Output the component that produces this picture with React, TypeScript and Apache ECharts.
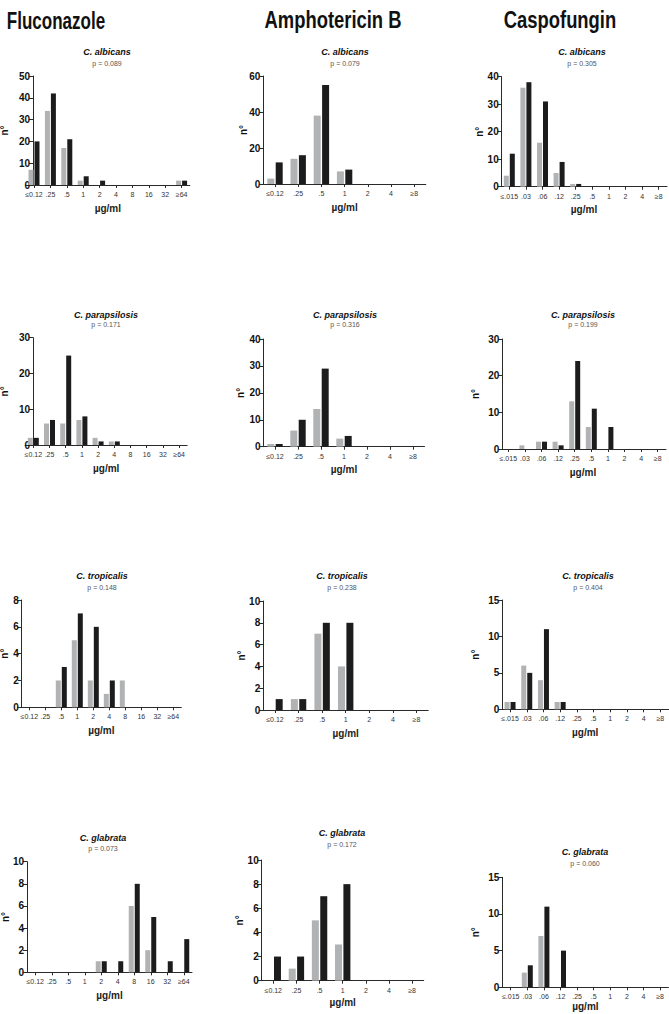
import React, { useEffect, useRef } from "react";
import * as echarts from "echarts";

// ---------- DATA ----------
const drugs = ["Fluconazole", "Amphotericin B", "Caspofungin"];
const species = ["C. albicans", "C. parapsilosis", "C. tropicalis", "C. glabrata"];

const flucCats = ["≤0.12", ".25", ".5", "1", "2", "4", "8", "16", "32", "≥64"];
const amphoCats = ["≤0.12", ".25", ".5", "1", "2", "4", "≥8"];
const caspoCats = ["≤.015", ".03", ".06", ".12", ".25", ".5", "1", "2", "4", "≥8"];

// p-values: rows = species, cols = drugs
const pAlbicans = ["p = 0.089", "p = 0.079", "p = 0.305"];
const pParapsilosis = ["p = 0.171", "p = 0.316", "p = 0.199"];
const pTropicalis = ["p = 0.148", "p = 0.238", "p = 0.404"];
const pGlabrata = ["p = 0.073", "p = 0.172", "p = 0.060"];

// grey / black series
const flucAlbGrey = [7, 34, 17, 2, 0, 0, 0, 0, 0, 2];
const flucAlbBlack = [20, 42, 21, 4, 2, 0, 0, 0, 0, 2];
const amphoAlbGrey = [3, 14, 38, 7, 0, 0, 0];
const amphoAlbBlack = [12, 16, 55, 8, 0, 0, 0];
const caspoAlbGrey = [4, 36, 16, 5, 1, 0, 0, 0, 0, 0];
const caspoAlbBlack = [12, 38, 31, 9, 1, 0, 0, 0, 0, 0];

const flucParGrey = [2, 6, 6, 7, 2, 1, 0, 0, 0, 0];
const flucParBlack = [2, 7, 25, 8, 1, 1, 0, 0, 0, 0];
const amphoParGrey = [1, 6, 14, 3, 0, 0, 0];
const amphoParBlack = [1, 10, 29, 4, 0, 0, 0];
const caspoParGrey = [0, 1, 2, 2, 13, 6, 0, 0, 0, 0];
const caspoParBlack = [0, 0, 2, 1, 24, 11, 6, 0, 0, 0];

const flucTroGrey = [0, 0, 2, 5, 2, 1, 2, 0, 0, 0];
const flucTroBlack = [0, 0, 3, 7, 6, 2, 0, 0, 0, 0];
const amphoTroGrey = [0, 1, 7, 4, 0, 0, 0];
const amphoTroBlack = [1, 1, 8, 8, 0, 0, 0];
const caspoTroGrey = [1, 6, 4, 1, 0, 0, 0, 0, 0, 0];
const caspoTroBlack = [1, 5, 11, 1, 0, 0, 0, 0, 0, 0];

const flucGlaGrey = [0, 0, 0, 0, 1, 0, 6, 2, 0, 0];
const flucGlaBlack = [0, 0, 0, 0, 1, 1, 8, 5, 1, 3];
const amphoGlaGrey = [0, 1, 5, 3, 0, 0, 0];
const amphoGlaBlack = [2, 2, 7, 8, 0, 0, 0];
const caspoGlaGrey = [0, 2, 7, 0, 0, 0, 0, 0, 0, 0];
const caspoGlaBlack = [0, 3, 11, 5, 0, 0, 0, 0, 0, 0];

// y-axis maxima and steps
const yMaxes = [50, 60, 40, 30, 40, 30, 8, 10, 15, 10, 10, 15];
const ySteps = [10, 20, 10, 10, 10, 10, 2, 2, 5, 2, 2, 5];

const pAll = [pAlbicans, pParapsilosis, pTropicalis, pGlabrata];
const catsByDrug = [flucCats, amphoCats, caspoCats];
const greyAll = [
  flucAlbGrey, amphoAlbGrey, caspoAlbGrey,
  flucParGrey, amphoParGrey, caspoParGrey,
  flucTroGrey, amphoTroGrey, caspoTroGrey,
  flucGlaGrey, amphoGlaGrey, caspoGlaGrey,
];
const blackAll = [
  flucAlbBlack, amphoAlbBlack, caspoAlbBlack,
  flucParBlack, amphoParBlack, caspoParBlack,
  flucTroBlack, amphoTroBlack, caspoTroBlack,
  flucGlaBlack, amphoGlaBlack, caspoGlaBlack,
];

// ---------- LAYOUT ----------
// [left, top, width, height, yAxisShift, yNameGap, xNameGap]
const gridLayout = [
  [25.8, 76, 164, 109, 7.2, 24, 18],
  [263.4, 76, 162.4, 108, 0, 15, 18],
  [501, 76.7, 166, 110, 0.7, 17, 18],
  [25.2, 337.7, 162, 107.3, 7.8, 24, 18],
  [263.5, 339, 161, 107.7, 0, 18, 18],
  [500, 339, 166, 110, 2.3, 22, 18],
  [21.3, 600, 160, 107.3, 0.4, 12, 18],
  [263.2, 601, 165, 109, 0, 17, 18],
  [501.7, 600, 167, 109.3, 0.6, 22, 18],
  [27, 861.7, 165, 110.6, 0, 17, 18],
  [261.7, 860, 162, 120.7, 0, 17, 17],
  [502.4, 877.3, 166, 110, 0, 22, 14],
];
// [centerX, titleY, pY]
const titleLayout = [
  [107, 52, 63], [345, 52, 63], [582, 52, 63],
  [106, 315, 324], [345, 315, 324], [583, 315, 324],
  [102, 576, 587], [342, 576, 587], [588, 576, 587],
  [103, 838, 848], [342, 833, 844], [585, 852, 863],
];
const headerX = [56, 333, 560];
const headerScale = [0.74, 0.8, 0.8];
const barWidths = [5, 7, 5];

const GREY = "#b1b2b4";
const BLACK = "#1c1c1c";
const AXIS = "#2a2a2a";
const FONT = "Liberation Sans, Arial, sans-serif";

function buildOption() {
  const grid: any[] = [];
  const xAxis: any[] = [];
  const yAxis: any[] = [];
  const series: any[] = [];
  const graphic: any[] = [];

  drugs.forEach((d, i) => {
    graphic.push({
      type: "text",
      x: headerX[i],
      y: 20,
      scaleX: headerScale[i],
      scaleY: 1.05,
      style: {
        text: d,
        font: `bold 23px ${FONT}`,
        fill: "#111",
        align: "center",
        verticalAlign: "middle",
        textAlign: "center",
        textVerticalAlign: "middle",
      },
    });
  });

  for (let k = 0; k < 12; k++) {
    const row = Math.floor(k / 3);
    const col = k % 3;
    const [left, top, width, height, shift, nGap, xGap] = gridLayout[k];
    const cats = catsByDrug[col];
    grid.push({ left, top, width, height, containLabel: false, outerBoundsMode: "none" });
    xAxis.push({
      type: "category",
      gridIndex: k,
      data: cats,
      boundaryGap: true,
      name: "µg/ml",
      nameLocation: "middle",
      nameGap: xGap,
      nameMoveOverlap: false,
      nameTextStyle: { fontFamily: FONT, fontSize: 10, fontWeight: "bold", color: "#222" },
      axisLine: { show: true, lineStyle: { color: AXIS, width: 1 } },
      axisTick: { show: true, alignWithLabel: true, length: 3, lineStyle: { color: AXIS } },
      axisLabel: {
        interval: 0,
        hideOverlap: false,
        margin: 6,
        fontFamily: FONT,
        fontSize: 7,
        color: "#333",
      },
      splitLine: { show: false },
    });
    yAxis.push({
      type: "value",
      gridIndex: k,
      min: 0,
      max: yMaxes[k],
      interval: ySteps[k],
      offset: -shift,
      name: "n°",
      nameLocation: "middle",
      nameGap: nGap,
      nameRotate: 90,
      nameMoveOverlap: false,
      nameTextStyle: { fontFamily: FONT, fontSize: 10, fontWeight: "bold", color: "#111" },
      axisLine: { show: true, lineStyle: { color: AXIS, width: 1 } },
      axisTick: { show: true, length: 4, lineStyle: { color: AXIS } },
      axisLabel: {
        margin: 3,
        fontFamily: FONT,
        fontSize: 10,
        fontWeight: "bold",
        color: "#111",
      },
      splitLine: { show: false },
    });
    series.push({
      type: "bar",
      xAxisIndex: k,
      yAxisIndex: k,
      data: greyAll[k],
      barWidth: barWidths[col],
      barGap: "20%",
      itemStyle: { color: GREY },
    });
    series.push({
      type: "bar",
      xAxisIndex: k,
      yAxisIndex: k,
      data: blackAll[k],
      barWidth: barWidths[col],
      barGap: "20%",
      itemStyle: { color: BLACK },
    });

    const [cx, ty, py] = titleLayout[k];
    graphic.push({
      type: "text",
      x: cx,
      y: ty,
      style: {
        text: species[row],
        font: `italic bold 9px ${FONT}`,
        fill: "#111",
        align: "center",
        verticalAlign: "middle",
        textAlign: "center",
        textVerticalAlign: "middle",
      },
    });
    graphic.push({
      type: "text",
      x: cx,
      y: py,
      style: {
        text: pAll[row][col],
        font: `7px ${FONT}`,
        fill: "#555",
        align: "center",
        verticalAlign: "middle",
        textAlign: "center",
        textVerticalAlign: "middle",
      },
    });
  }

  return {
    animation: false,
    backgroundColor: "#ffffff",
    grid,
    xAxis,
    yAxis,
    series,
    graphic,
  };
}

export default function App() {
  const ref = useRef<HTMLDivElement>(null);
  useEffect(() => {
    const chart = echarts.init(ref.current!, null, { renderer: "svg" });
    chart.setOption(buildOption() as any);
    return () => chart.dispose();
  }, []);
  return (
    <div
      ref={ref}
      style={{ position: "absolute", left: 0, top: 0, width: 669, height: 1014, background: "#fff" }}
    />
  );
}
